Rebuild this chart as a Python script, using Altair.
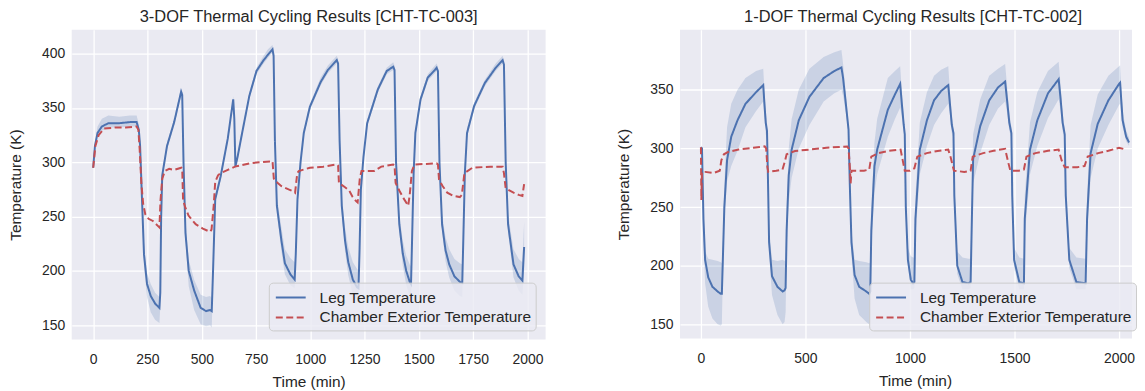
import altair as alt
import pandas as pd

# ---------------- Left panel: 3-DOF [CHT-TC-003] ----------------
L_LEG_T = [0, 8, 20, 40, 70, 120, 170, 200, 210, 216, 224, 234, 248, 265, 285, 305, 309, 313, 318, 340,
           373, 405, 410, 416, 425, 440, 465, 495, 520, 538, 546, 552, 562, 587, 620, 645, 650, 655, 665, 686,
           719, 752, 785, 805, 826, 831, 837, 846, 867, 883, 908, 928, 933, 941, 955, 970, 998, 1048, 1081, 1122,
           1128, 1135, 1145, 1160, 1175, 1196, 1215, 1222, 1227, 1233, 1245, 1262, 1311, 1352, 1382, 1388, 1395, 1410, 1426, 1442,
           1458, 1464, 1469, 1476, 1484, 1508, 1541, 1574, 1582, 1588, 1595, 1607, 1623, 1640, 1664, 1689, 1700, 1705, 1712, 1722,
           1755, 1804, 1854, 1886, 1892, 1900, 1911, 1936, 1960, 1977, 1985]
L_LEG_MEAN = [295, 315, 327, 333, 336, 336, 337, 337, 330, 315, 270, 215, 188, 177, 170, 166, 180, 250, 288, 315,
              337, 365, 362, 300, 235, 200, 182, 166, 163, 164, 163, 200, 266, 287, 322, 358, 340, 296, 305, 327,
              361, 384, 394, 399, 404, 398, 320, 260, 228, 207, 197, 192, 215, 266, 300, 327, 351, 374, 385, 394,
              391, 320, 260, 228, 208, 192, 185, 184, 220, 275, 305, 336, 367, 384, 388, 385, 300, 243, 216, 200,
              190, 188, 230, 290, 327, 358, 378, 385, 387, 384, 300, 243, 219, 206, 195, 190, 189, 230, 290, 327,
              352, 373, 387, 394, 390, 300, 243, 206, 195, 191, 222]
L_LEG_LO = [294, 313, 324, 329, 332, 332, 333, 333, 326, 311, 264, 205, 176, 162, 155, 152, 168, 245, 285, 312,
            334, 362, 359, 295, 228, 186, 164, 151, 149, 150, 148, 190, 262, 284, 319, 355, 337, 293, 302, 324,
            358, 381, 391, 396, 401, 395, 315, 253, 218, 197, 187, 184, 205, 262, 297, 324, 348, 371, 382, 391,
            388, 315, 253, 218, 196, 178, 173, 172, 212, 270, 302, 333, 364, 381, 385, 382, 295, 236, 205, 187,
            177, 175, 223, 286, 323, 355, 375, 382, 384, 381, 295, 236, 209, 194, 182, 177, 176, 223, 286, 323,
            349, 370, 384, 391, 387, 295, 236, 194, 182, 178, 200]
L_LEG_HI = [297, 319, 333, 340, 343, 342, 343, 343, 335, 320, 278, 225, 198, 188, 180, 176, 190, 256, 292, 318,
            340, 368, 365, 306, 245, 210, 192, 178, 176, 177, 175, 210, 271, 290, 325, 361, 343, 299, 308, 330,
            364, 387, 398, 404, 408, 402, 326, 268, 240, 220, 212, 208, 225, 271, 303, 330, 354, 378, 389, 398,
            395, 326, 268, 240, 222, 208, 202, 200, 230, 280, 308, 339, 370, 387, 392, 389, 306, 252, 228, 214,
            206, 204, 240, 294, 331, 361, 381, 389, 391, 388, 306, 252, 231, 220, 211, 207, 206, 240, 294, 331,
            355, 376, 391, 398, 394, 306, 252, 220, 211, 208, 245]
L_CH_T = [0, 10, 25, 50, 100, 150, 200, 208, 214, 222, 230, 240, 255, 275, 300, 305, 310, 318, 330, 350,
          373, 406, 410, 414, 425, 439, 472, 505, 538, 545, 555, 562, 575, 587, 620, 653, 719, 765, 826, 832,
          850, 867, 900, 924, 930, 940, 947, 998, 1060, 1122, 1128, 1132, 1160, 1179, 1195, 1212, 1218, 1228, 1236, 1294,
          1327, 1382, 1388, 1393, 1410, 1426, 1451, 1458, 1468, 1480, 1582, 1588, 1593, 1610, 1631, 1660, 1689, 1698, 1710, 1747,
          1830, 1886, 1892, 1900, 1936, 1960, 1977, 1985]
L_CH_V = [295, 315, 325, 331, 332, 332, 333, 330, 312, 280, 262, 252, 248, 246, 241, 240, 265, 285, 292, 294,
          293, 295, 294, 265, 258, 251, 243, 239, 236, 238, 260, 282, 288, 290, 293, 296, 299, 300, 301, 285,
          281, 278, 275, 273, 272, 290, 292, 295, 296, 298, 297, 281, 277, 274, 268, 264, 263, 285, 292, 292,
          296, 298, 297, 281, 274, 268, 260, 270, 292, 298, 299, 298, 284, 278, 272, 269, 268, 270, 290, 295,
          296, 296, 290, 276, 272, 270, 269, 280]

# ---------------- Right panel: 1-DOF [CHT-TC-002] ----------------
R_LEG_T = [0, 5, 12, 20, 35, 55, 80, 95, 100, 104, 112, 125, 145, 175, 213, 264, 298, 303, 310, 316,
           320, 326, 340, 366, 391, 400, 405, 410, 420, 434, 468, 519, 587, 638, 672, 680, 695, 706, 712, 720,
           735, 757, 791, 805, 810, 815, 830, 843, 894, 928, 953, 960, 970, 975, 980, 990, 1004, 1015, 1021, 1026,
           1047, 1081, 1115, 1149, 1183, 1190, 1200, 1208, 1212, 1226, 1251, 1280, 1290, 1296, 1302, 1336, 1379, 1421, 1455, 1465,
           1475, 1485, 1489, 1498, 1523, 1545, 1549, 1574, 1609, 1660, 1711, 1720, 1730, 1740, 1745, 1762, 1796, 1840, 1847, 1864,
           1898, 1949, 2000, 2005, 2017, 2034, 2048]
R_LEG_MEAN = [301, 300, 240, 205, 190, 182, 178, 176, 176, 200, 250, 290, 310, 324, 338, 348, 354, 340, 322, 315,
              280, 220, 191, 182, 178, 179, 181, 230, 277, 299, 324, 344, 360, 366, 369, 360, 335, 316, 270, 220,
              192, 182, 178, 176, 178, 230, 285, 299, 333, 346, 355, 340, 320, 312, 250, 205, 188, 185, 186, 240,
              299, 324, 341, 349, 354, 340, 320, 313, 260, 200, 186, 185, 186, 240, 291, 319, 341, 352, 357, 340,
              322, 313, 260, 205, 186, 185, 240, 299, 324, 347, 359, 343, 322, 312, 260, 205, 186, 185, 240, 296,
              321, 341, 355, 356, 324, 310, 305]
R_LEG_LO = [301, 299, 225, 185, 165, 155, 150, 149, 150, 185, 240, 272, 285, 298, 318, 332, 340, 328, 312, 308,
            272, 210, 175, 158, 150, 152, 160, 215, 255, 275, 300, 320, 340, 347, 350, 345, 328, 312, 262, 210,
            172, 158, 152, 150, 152, 215, 262, 278, 310, 325, 335, 328, 314, 308, 242, 200, 180, 180, 181, 225,
            278, 302, 320, 330, 338, 330, 313, 309, 250, 193, 180, 180, 181, 225, 270, 296, 320, 334, 340, 330,
            315, 309, 250, 198, 180, 180, 225, 278, 302, 326, 342, 333, 315, 308, 250, 198, 180, 180, 225, 275,
            300, 320, 337, 338, 318, 306, 302]
R_LEG_HI = [301, 301, 250, 212, 206, 205, 204, 203, 202, 215, 270, 318, 338, 350, 360, 366, 368, 352, 332, 322,
            288, 232, 205, 204, 205, 204, 206, 250, 300, 325, 350, 368, 378, 382, 384, 372, 343, 320, 280, 230,
            205, 204, 203, 202, 203, 250, 305, 325, 360, 366, 370, 352, 328, 318, 262, 215, 208, 207, 207, 260,
            322, 348, 362, 367, 370, 352, 328, 318, 270, 212, 207, 206, 206, 260, 312, 342, 362, 368, 372, 352,
            330, 318, 270, 215, 207, 206, 260, 322, 348, 366, 374, 355, 330, 317, 270, 215, 207, 206, 260, 320,
            346, 362, 370, 371, 332, 315, 309]
R_CH_T = [0, 2, 5, 20, 60, 90, 98, 110, 130, 180, 250, 305, 312, 318, 322, 360, 390, 400, 410, 450,
          520, 600, 700, 706, 712, 716, 720, 780, 805, 815, 850, 900, 955, 965, 975, 1000, 1021, 1035, 1080, 1132,
          1183, 1195, 1210, 1260, 1290, 1300, 1350, 1400, 1455, 1470, 1480, 1520, 1545, 1557, 1600, 1660, 1711, 1725, 1740, 1800,
          1835, 1850, 1900, 1949, 2000, 2033]
R_CH_V = [301, 256, 280, 280, 279, 281, 290, 295, 297, 299, 300.6, 301.7, 300, 284, 280, 281, 282, 288, 295, 297.8,
          299, 300.6, 301.7, 300, 285, 270, 281, 281, 282, 293, 296, 298, 299, 290, 281, 281, 283, 293, 296, 297.8,
          299, 292, 281, 280, 281, 293, 296, 298, 299.7, 288, 281, 281, 282, 293, 296, 298, 299, 290, 284, 284,
          285, 293, 296, 298, 300.6, 299]

SERIES = ["Leg Temperature", "Chamber Exterior Temperature"]
FONT = "Liberation Sans"
TEXT = "#262626"
BLUE = "#4C72B0"
RED = "#C44E52"
BG = "#EAEAF2"


def panel(title, t_leg, mean, lo, hi, t_ch, ch, xdom, ydom, xticks, yticks, w, h,
          title_dx, leg_xy, xtitle_x=None):
    leg = pd.DataFrame({"t": t_leg, "value": mean, "lo": lo, "hi": hi, "series": SERIES[0]})
    chd = pd.DataFrame({"t": t_ch, "value": ch, "series": SERIES[1]})

    xaxis_kw = dict(values=xticks, format="d", title="Time (min)", grid=True, gridColor="white",
                    gridWidth=1.3, domain=False, ticks=False, labelFont=FONT, labelFontSize=14,
                    labelColor=TEXT, labelPadding=13, labelFlush=False, titleFont=FONT,
                    titleFontSize=15.5, titleColor=TEXT, titleFontWeight="normal", titlePadding=8)
    if xtitle_x is not None:
        xaxis_kw["titleX"] = xtitle_x
    xaxis = alt.Axis(**xaxis_kw)
    yaxis = alt.Axis(values=yticks, format="d", title="Temperature (K)", grid=True, gridColor="white",
                     gridWidth=1.3, domain=False, ticks=False, labelFont=FONT, labelFontSize=14,
                     labelColor=TEXT, labelPadding=7, titleFont=FONT, titleFontSize=15.5,
                     titleColor=TEXT, titleFontWeight="normal", titlePadding=18)
    xs = alt.Scale(domain=xdom, nice=False, zero=False)
    ys = alt.Scale(domain=ydom, nice=False, zero=False)

    legend = alt.Legend(title=None, orient="none", legendX=leg_xy[0], legendY=leg_xy[1],
                        symbolType="M-1.5,0H1.5", symbolSize=400, symbolStrokeWidth=2, symbolOffset=7,
                        labelFont=FONT, labelFontSize=15.5, labelColor=TEXT, labelOffset=18,
                        labelLimit=500, padding=4, rowPadding=0,
                        fillColor="rgba(234,234,242,0.8)", strokeColor="#CCCCCC", cornerRadius=4)
    color = alt.Color("series:N", scale=alt.Scale(domain=SERIES, range=[BLUE, RED]), legend=legend)
    dash = alt.StrokeDash("series:N", scale=alt.Scale(domain=SERIES, range=[[1, 0], [7, 3.5]]),
                          legend=legend)

    band = alt.Chart(leg).mark_area(color=BLUE, opacity=0.2).encode(
        x=alt.X("t:Q", scale=xs, axis=xaxis),
        y=alt.Y("lo:Q", scale=ys, axis=yaxis),
        y2="hi:Q",
    )
    line_leg = alt.Chart(leg).mark_line(strokeWidth=2).encode(
        x=alt.X("t:Q", scale=xs, axis=xaxis),
        y=alt.Y("value:Q", scale=ys, axis=yaxis),
        color=color, strokeDash=dash,
    )
    line_ch = alt.Chart(chd).mark_line(strokeWidth=2).encode(
        x=alt.X("t:Q", scale=xs, axis=xaxis),
        y=alt.Y("value:Q", scale=ys, axis=yaxis),
        color=color, strokeDash=dash,
    )
    return alt.layer(band, line_leg, line_ch).properties(
        width=w, height=h,
        title=alt.TitleParams(text=title, font=FONT, fontSize=16.5, fontWeight="normal",
                              color=TEXT, offset=4.5, dx=title_dx),
    )


left = panel("3-DOF Thermal Cycling Results [CHT-TC-003]", L_LEG_T, L_LEG_MEAN, L_LEG_LO, L_LEG_HI,
             L_CH_T, L_CH_V, [-99, 2084], [137, 422], [0, 250, 500, 750, 1000, 1250, 1500, 1750, 2000],
             [150, 200, 250, 300, 350, 400], 476, 311, 0, (198, 254))
right = panel("1-DOF Thermal Cycling Results [CHT-TC-002]", R_LEG_T, R_LEG_MEAN, R_LEG_LO, R_LEG_HI,
              R_CH_T, R_CH_V, [-100, 2062], [138, 401.2], [0, 500, 1000, 1500, 2000],
              [150, 200, 250, 300, 350], 454, 310, 7, (190, 254), xtitle_x=236)

chart = alt.hconcat(left, right, spacing=71).resolve_scale(color="independent", strokeDash="independent").configure_view(
    fill=BG, strokeWidth=0
).properties(padding={"left": 0, "top": 0, "right": 0, "bottom": 0}, background="white")

chart.save("out.html", embed_options={"renderer": "svg", "actions": False})
